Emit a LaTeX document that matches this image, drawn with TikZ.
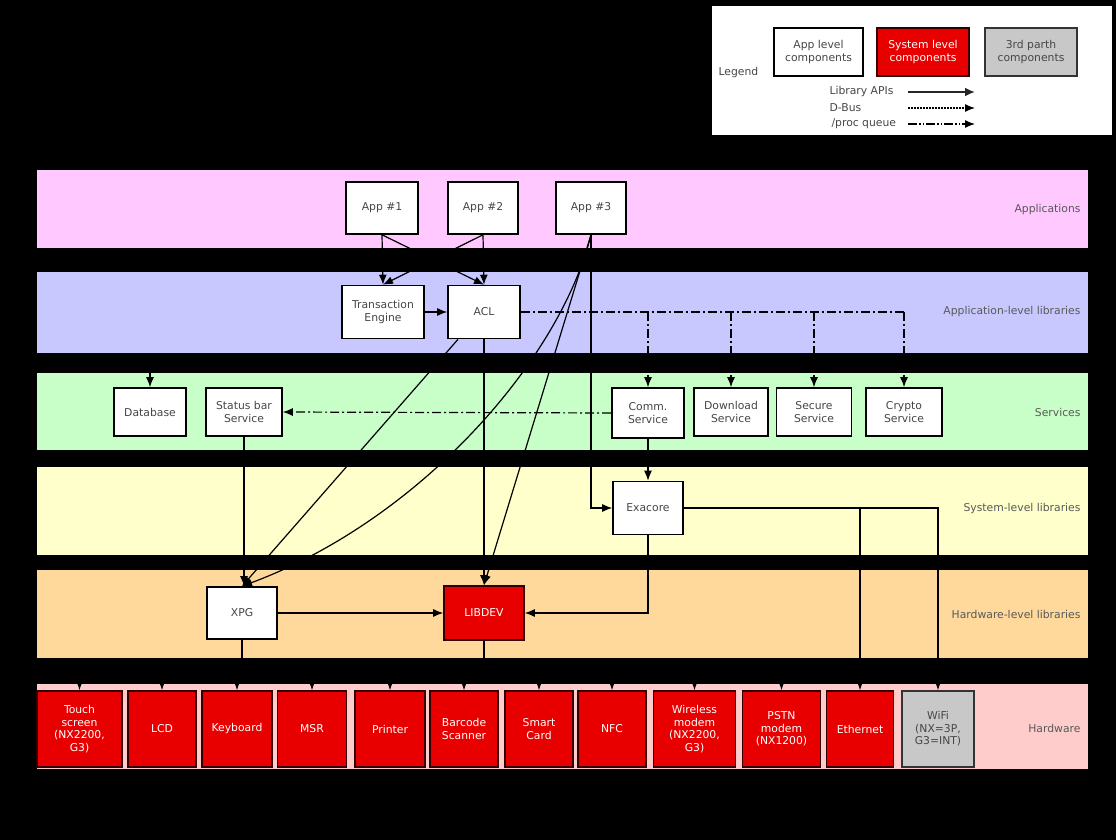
\documentclass[tikz,border=0pt]{standalone}
\usepackage{fontspec}
\setmainfont{DejaVu Sans}
\usetikzlibrary{arrows.meta,calc}
\definecolor{bandapp}{RGB}{255,200,255}
\definecolor{bandlib}{RGB}{200,200,255}
\definecolor{bandsrv}{RGB}{200,255,200}
\definecolor{bandsys}{RGB}{255,255,204}
\definecolor{bandhwl}{RGB}{255,216,156}
\definecolor{bandhw}{RGB}{255,204,204}
\definecolor{sysred}{RGB}{232,0,0}
\definecolor{thirdgray}{RGB}{200,200,200}
\definecolor{txt}{RGB}{70,70,70}
\begin{document}
\begin{tikzpicture}[x=1pt,y=-1pt,
  every node/.style={font=\fontsize{10.8}{12.6}\selectfont},
  appbox/.style={draw=black, line width=1.6pt, fill=white, text=txt, align=center, inner sep=0pt},
  sysbox/.style={draw=black!80!red, line width=1.6pt, fill=sysred, text=white, align=center, inner sep=0pt},
  trdbox/.style={draw=black!80, line width=1.6pt, fill=thirdgray, text=txt, align=center, inner sep=0pt},
  bandlabel/.style={anchor=east, text=black!65},
  conn/.style={draw=black, line width=1.2pt},
  tip/.style={-{Latex[length=10pt,width=8pt]}},
  arr/.style={conn, tip},
  proc/.style={conn, dash pattern=on 9pt off 3pt on 2pt off 3pt},
  dbus/.style={conn, dash pattern=on 2pt off 1pt},
]
\useasboundingbox (0,0) rectangle (1116,840);
\fill[black] (0,0) rectangle (1116,840);

% bands
\fill[bandapp] (37,170) rectangle (1088,248);
\fill[bandlib] (37,272) rectangle (1088,353);
\fill[bandsrv] (37,373) rectangle (1088,450);
\fill[bandsys] (37,467) rectangle (1088,555);
\fill[bandhwl] (37,570) rectangle (1088,658);
\fill[bandhw]  (37,684) rectangle (1088,769);

\node[bandlabel] (lbapp) at (1084,210) {Applications};
\node[bandlabel] (lblib) at (1084,312) {Application-level libraries};
\node[bandlabel] (lbsrv) at (1084,412) {Services};
\node[bandlabel] (lbsys) at (1084,509) {System-level libraries};
\node[bandlabel] (lbhwl) at (1084,614) {Hardware-level libraries};
\node[bandlabel] (lbhw)  at (1084,728) {Hardware};

% legend
\fill[white] (712,6) rectangle (1112,135);
\node[anchor=west, text=txt] (leg) at (715,73) {Legend};
\node[appbox, minimum width=89pt, minimum height=48pt] (lapp) at (818.5,52) {App level\\components};
\node[sysbox, minimum width=92pt, minimum height=48pt] (lsys) at (923,52) {System level\\components};
\node[trdbox, minimum width=92pt, minimum height=48pt] (ltrd) at (1031,52) {3rd parth\\components};
\node[anchor=west, text=txt] (llib) at (826,92) {Library APIs};
\node[anchor=west, text=txt] (ldbus) at (826,108) {D-Bus};
\node[anchor=west, text=txt] (lproc) at (828,124) {/proc queue};
\coordinate (la1) at (908,92); \coordinate (lb1) at (975,92);
\coordinate (la2) at (908,108); \coordinate (lb2) at (975,108);
\coordinate (la3) at (908,124); \coordinate (lb3) at (975,124);
\draw[conn, line width=2.2pt, draw=black!85, -{Latex[length=10pt,width=9pt]}] (la1) -- (lb1);
\draw[dbus, tip] (la2) -- (lb2);
\draw[conn, dash pattern=on 9pt off 2pt on 1.5pt off 2pt on 1.5pt off 2pt, tip] (la3) -- (lb3);

% applications
\node[appbox, minimum width=72pt, minimum height=52pt] (app1) at (382,208) {App \#1};
\node[appbox, minimum width=70pt, minimum height=52pt] (app2) at (483,208) {App \#2};
\node[appbox, minimum width=70pt, minimum height=52pt] (app3) at (591,208) {App \#3};
% application-level libraries
\node[appbox, minimum width=82pt, minimum height=53pt] (te) at (383,312) {Transaction\\Engine};
\node[appbox, minimum width=72pt, minimum height=53pt] (acl) at (484,312) {ACL};
% services
\node[appbox, minimum width=72pt, minimum height=48pt] (db) at (150,412) {Database};
\node[appbox, minimum width=76pt, minimum height=48pt] (sbar) at (244,412) {Status bar\\Service};
\node[appbox, minimum width=72pt, minimum height=50pt] (comm) at (648,413) {Comm.\\Service};
\node[appbox, minimum width=74pt, minimum height=48pt] (dl) at (731,412) {Download\\Service};
\node[appbox, minimum width=75pt, minimum height=48pt] (sec) at (814,412) {Secure\\Service};
\node[appbox, minimum width=76pt, minimum height=48pt] (cry) at (904,412) {Crypto\\Service};
% system-level libraries
\node[appbox, minimum width=70pt, minimum height=53pt] (exa) at (648,508) {Exacore};
% hardware-level libraries
\node[appbox, minimum width=70pt, minimum height=52pt] (xpg) at (242,613) {XPG};
\node[sysbox, minimum width=80pt, minimum height=54pt] (libdev) at (484,613) {LIBDEV};
% hardware
\tikzset{hw/.style={sysbox, minimum height=76pt, minimum width=#1}}
\node[hw=85pt] (touch) at (79.5,729) {Touch\\screen\\(NX2200,\\G3)};
\node[hw=68pt] (lcd) at (162,729) {LCD};
\node[hw=70pt] (kbd) at (237,729) {Keyboard};
\node[hw=69pt] (msr) at (312,729) {MSR};
\node[hw=70pt] (prn) at (390,729) {Printer};
\node[hw=68pt] (bar) at (464,729) {Barcode\\Scanner};
\node[hw=68pt] (smc) at (539,729) {Smart\\Card};
\node[hw=68pt] (nfc) at (612,729) {NFC};
\node[hw=82pt] (wls) at (694.5,729) {Wireless\\modem\\(NX2200,\\G3)};
\node[hw=78pt] (pstn) at (781.5,729) {PSTN\\modem\\(NX1200)};
\node[hw=67pt] (eth) at (860,729) {Ethernet};
\node[trdbox, minimum height=76pt, minimum width=72pt] (wifi) at (938,729) {WiFi\\(NX=3P,\\G3=INT)};

% connectors: applications -> libraries
\draw[arr] (app1.south) -- (te.north);
\draw[arr] (app1.south) -- (acl.north);
\draw[arr] (app2.south) -- (te.north);
\draw[arr] (app2.south) -- (acl.north);
\draw[arr] (te.east) -- (acl.west);
\draw[arr] (app3.south) |- (exa.west);
\draw[arr] (app3.south) -- (libdev.north);
\draw[arr] (app3.south) .. controls (560,360) and (420,520) .. (xpg.north);
\draw[arr] ([xshift=-26pt]acl.south) -- (xpg.north);
\draw[arr] (acl.south) -- (libdev.north);

% ACL -> services (/proc queue)
\draw[proc] (acl.east) -- (acl.east -| cry.north);
\draw[proc, tip] (acl.east -| comm.north) -- (comm.north);
\draw[proc, tip] (acl.east -| dl.north) -- (dl.north);
\draw[proc, tip] (acl.east -| sec.north) -- (sec.north);
\draw[proc, tip] (acl.east -| cry.north) -- (cry.north);

% database feed
\coordinate (dbin) at (150,362);
\draw[arr] (dbin) -- (db.north);

% services
\draw[proc, tip] (comm.west) -- (sbar.east);
\draw[arr] (comm.south) -- (exa.north);
\draw[arr] (sbar.south) -- (sbar.south |- xpg.north);

% exacore
\draw[arr] (exa.east) -| (eth.north);
\draw[arr] (exa.east) -| (wifi.north);
\draw[arr] (exa.south) |- (libdev.east);

% hardware-level libraries
\draw[arr] (xpg.east) -- (libdev.west);
\coordinate (bus) at (0,676);
\foreach \t in {touch,lcd,kbd,msr}
  \draw[arr] (xpg.south) |- (\t.north |- bus) -- (\t.north);
\foreach \t in {prn,bar,smc,nfc,wls,pstn}
  \draw[arr] (libdev.south) |- (\t.north |- bus) -- (\t.north);
\end{tikzpicture}
\end{document}
